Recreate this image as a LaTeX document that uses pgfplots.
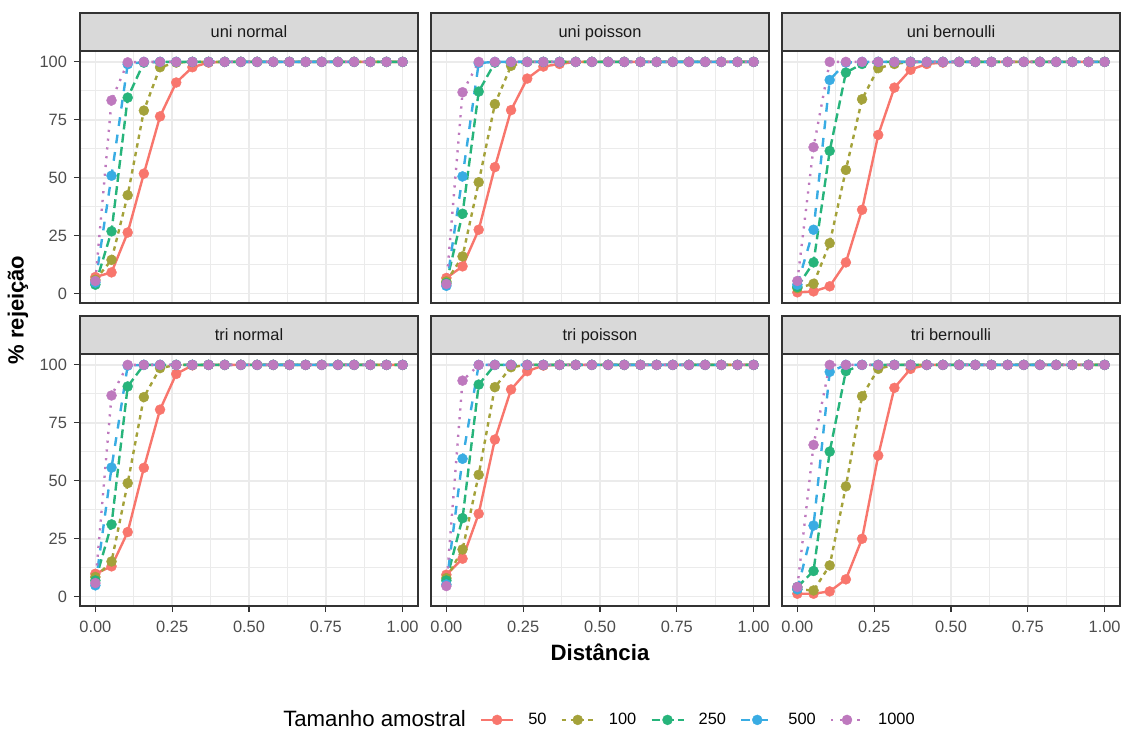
\documentclass[border=0pt]{standalone}
\usepackage{fontspec}
\setmainfont{Liberation Sans}
\usepackage{pgfplots}
\usepackage{pgfplotstable}
\pgfplotsset{compat=1.18}

\definecolor{c50}{HTML}{F8766D}
\definecolor{c100}{HTML}{A4A23A}
\definecolor{c250}{HTML}{27B47B}
\definecolor{c500}{HTML}{39ACE3}
\definecolor{c1000}{HTML}{BE79BE}
\definecolor{grey10}{HTML}{1A1A1A}
\definecolor{grey20}{HTML}{333333}
\definecolor{grey30}{HTML}{4D4D4D}
\definecolor{grey85}{HTML}{D9D9D9}
\definecolor{grey92}{HTML}{EBEBEB}

% x = i/19 ; columns: a=50, b=100, c=250, d=500, e=1000
\pgfplotstableread{
x a b c d e
0       7.2  6.0  3.9  4.8  5.5
0.05263 9.2  14.6 26.9 50.9 83.4
0.10526 26.4 42.5 84.6 99.0 99.8
0.15789 51.8 79.0 99.7 100 100
0.21053 76.5 97.7 100 100 100
0.26316 91.1 99.7 100 100 100
0.31579 97.7 100 100 100 100
0.36842 99.7 100 100 100 100
0.42105 100 100 100 100 100
0.47368 100 100 100 100 100
0.52632 100 100 100 100 100
0.57895 100 100 100 100 100
0.63158 100 100 100 100 100
0.68421 100 100 100 100 100
0.73684 100 100 100 100 100
0.78947 100 100 100 100 100
0.84211 100 100 100 100 100
0.89474 100 100 100 100 100
0.94737 100 100 100 100 100
1       100 100 100 100 100
}\UN

\pgfplotstableread{
x a b c d e
0       6.8  5.3  4.6  3.4  4.2
0.05263 11.8 16.1 34.5 50.6 86.9
0.10526 27.6 48.1 87.2 99.5 100
0.15789 54.6 81.8 99.7 100 100
0.21053 79.2 98.3 100 100 100
0.26316 92.8 100 100 100 100
0.31579 98.0 100 100 100 100
0.36842 99.1 100 100 100 100
0.42105 100 100 100 100 100
0.47368 100 100 100 100 100
0.52632 100 100 100 100 100
0.57895 100 100 100 100 100
0.63158 100 100 100 100 100
0.68421 100 100 100 100 100
0.73684 100 100 100 100 100
0.78947 100 100 100 100 100
0.84211 100 100 100 100 100
0.89474 100 100 100 100 100
0.94737 100 100 100 100 100
1       100 100 100 100 100
}\UP

\pgfplotstableread{
x a b c d e
0       0.6  2.4  2.9  3.9  5.5
0.05263 1.0  4.3  13.5 27.6 63.2
0.10526 3.2  21.8 61.6 92.2 100
0.15789 13.5 53.4 95.4 99.7 100
0.21053 36.2 83.9 99.1 100 100
0.26316 68.5 97.3 100 100 100
0.31579 88.9 99.1 100 100 100
0.36842 96.6 100 100 100 100
0.42105 99.1 100 100 100 100
0.47368 99.7 100 100 100 100
0.52632 100 100 100 100 100
0.57895 100 100 100 100 100
0.63158 100 100 100 100 100
0.68421 100 100 100 100 100
0.73684 100 100 100 100 100
0.78947 100 100 100 100 100
0.84211 100 100 100 100 100
0.89474 100 100 100 100 100
0.94737 100 100 100 100 100
1       100 100 100 100 100
}\UB

\pgfplotstableread{
x a b c d e
0       9.9  8.5  7.0  4.9  5.9
0.05263 13.1 15.2 31.2 55.7 86.8
0.10526 27.9 49.0 90.7 99.7 100
0.15789 55.6 86.1 100 100 100
0.21053 80.7 98.6 100 100 100
0.26316 96.1 100 100 100 100
0.31579 99.8 100 100 100 100
0.36842 100 100 100 100 100
0.42105 100 100 100 100 100
0.47368 100 100 100 100 100
0.52632 100 100 100 100 100
0.57895 100 100 100 100 100
0.63158 100 100 100 100 100
0.68421 100 100 100 100 100
0.73684 100 100 100 100 100
0.78947 100 100 100 100 100
0.84211 100 100 100 100 100
0.89474 100 100 100 100 100
0.94737 100 100 100 100 100
1       100 100 100 100 100
}\TN

\pgfplotstableread{
x a b c d e
0       9.5  8.0  7.0  5.3  4.6
0.05263 16.4 20.4 33.9 59.5 93.2
0.10526 35.8 52.6 91.5 100 100
0.15789 67.8 90.4 100 100 100
0.21053 89.4 99.0 100 100 100
0.26316 97.3 100 100 100 100
0.31579 99.7 100 100 100 100
0.36842 100 100 100 100 100
0.42105 100 100 100 100 100
0.47368 100 100 100 100 100
0.52632 100 100 100 100 100
0.57895 100 100 100 100 100
0.63158 100 100 100 100 100
0.68421 100 100 100 100 100
0.73684 100 100 100 100 100
0.78947 100 100 100 100 100
0.84211 100 100 100 100 100
0.89474 100 100 100 100 100
0.94737 100 100 100 100 100
1       100 100 100 100 100
}\TP

\pgfplotstableread{
x a b c d e
0       1.3  3.2  4.2  3.2  4.2
0.05263 1.3  2.7  11.1 30.7 65.5
0.10526 2.3  13.5 62.6 97.0 100
0.15789 7.5  47.6 97.3 100 100
0.21053 25.0 86.5 100 100 100
0.26316 60.9 98.3 100 100 100
0.31579 90.1 100 100 100 100
0.36842 98.3 100 100 100 100
0.42105 100 100 100 100 100
0.47368 100 100 100 100 100
0.52632 100 100 100 100 100
0.57895 100 100 100 100 100
0.63158 100 100 100 100 100
0.68421 100 100 100 100 100
0.73684 100 100 100 100 100
0.78947 100 100 100 100 100
0.84211 100 100 100 100 100
0.89474 100 100 100 100 100
0.94737 100 100 100 100 100
1       100 100 100 100 100
}\TB

\pgfplotsset{
  lw/.style={line width=1.2bp, forget plot, no markers},
  l50/.style={lw, c50, solid},
  l100/.style={lw, c100, dash pattern=on 2.2bp off 2.2bp},
  l250/.style={lw, c250, dash pattern=on 4.4bp off 2.2bp},
  l500/.style={lw, c500, dash pattern=on 4.4bp off 4.4bp},
  l1000/.style={lw, c1000, dash pattern=on 1.1bp off 3.3bp},
  mk/.style={only marks, forget plot, mark=*, mark size=2.5bp, mark options={line width=0.2bp}},
  m50/.style={mk, c50},
  m100/.style={mk, c100},
  m250/.style={mk, c250},
  m500/.style={mk, c500},
  m1000/.style={mk, c1000},
  panel/.style={
    scale only axis, width=169bp, height=126bp, anchor=south west,
    xmin=-0.05, xmax=1.05, ymin=-4.0, ymax=104.7,
    xtick={0,0.25,0.5,0.75,1}, ytick={0,25,50,75,100},
    minor xtick={0.125,0.375,0.625,0.875}, minor ytick={12.5,37.5,62.5,87.5},
    grid=both,
    major grid style={draw=grey92, line width=0.75bp},
    minor grid style={draw=grey92, line width=0.4bp},
    axis line style={draw=grey20, line width=1bp},
    tick align=outside, major tick length=3bp, minor tick length=0pt,
    tick style={draw=grey20, line width=0.6bp},
    xtick pos=left, ytick pos=left,
    tick label style={font=\fontsize{8.2bp}{9.8bp}\selectfont, text=grey30},
    xticklabel style={yshift=-1bp},
    xticklabels={0.00,0.25,0.50,0.75,1.00},
    yticklabels={0,25,50,75,100},
  },
  noxt/.style={xticklabels={}, xtick style={draw=none}},
  noyt/.style={yticklabels={}, ytick style={draw=none}},
}

\newcommand{\series}[1]{%
  \addplot[l50] table[x=x,y=a]{#1};
  \addplot[l100] table[x=x,y=b]{#1};
  \addplot[l250] table[x=x,y=c]{#1};
  \addplot[l500] table[x=x,y=d]{#1};
  \addplot[l1000] table[x=x,y=e]{#1};
  \addplot[m50] table[x=x,y=a]{#1};
  \addplot[m100] table[x=x,y=b]{#1};
  \addplot[m250] table[x=x,y=c]{#1};
  \addplot[m500] table[x=x,y=d]{#1};
  \addplot[m1000] table[x=x,y=e]{#1};
}

\newcommand{\strip}[2]{%
  \draw[fill=grey85, draw=grey20, line width=1bp] (#1.north west) rectangle ([yshift=19bp]#1.north east);
  \node[anchor=base, inner sep=0pt, text=grey10, font=\fontsize{8.2bp}{9.8bp}\selectfont] at ([yshift=6.6bp]#1.north) {#2};
}

\begin{document}
\begin{tikzpicture}
\path[use as bounding box] (0,0) rectangle (564bp,365.5bp);

\begin{axis}[panel, noxt, name=p1, at={(40bp,214bp)}]
\series{\UN}
\end{axis}
\begin{axis}[panel, noxt, noyt, name=p2, at={(215.5bp,214bp)}]
\series{\UP}
\end{axis}
\begin{axis}[panel, noxt, noyt, name=p3, at={(391bp,214bp)}]
\series{\UB}
\end{axis}
\begin{axis}[panel, name=p4, at={(40bp,62.5bp)}]
\series{\TN}
\end{axis}
\begin{axis}[panel, noyt, name=p5, at={(215.5bp,62.5bp)},
  legend columns=-1,
  legend style={at={(0.5,-0.452)}, anchor=center, draw=none, fill=none,
    inner sep=0pt, font=\fontsize{8.2bp}{9.8bp}\selectfont,
    nodes={inner sep=0pt},
    xshift=-4bp,
    /tikz/every even column/.append style={column sep=7bp},
    /tikz/every odd column/.append style={column sep=7bp}},
  legend cell align=left,
  legend image code/.code={\draw[mark repeat=2,mark phase=2] plot coordinates {(0bp,0bp) (8bp,0bp) (16bp,0bp)};}]
\series{\TP}
\addlegendimage{empty legend}
\addlegendentry{\fontsize{11.1bp}{13bp}\selectfont Tamanho amostral}
\addlegendimage{c50, line width=1.2bp, solid, mark=*, mark size=2.5bp, mark options={solid, line width=0.2bp}}
\addlegendentry{50}
\addlegendimage{c100, line width=1.2bp, dash pattern=on 2.2bp off 2.2bp, mark=*, mark size=2.5bp, mark options={solid, line width=0.2bp}}
\addlegendentry{100}
\addlegendimage{c250, line width=1.2bp, dash pattern=on 4.4bp off 2.2bp, mark=*, mark size=2.5bp, mark options={solid, line width=0.2bp}}
\addlegendentry{250}
\addlegendimage{c500, line width=1.2bp, dash pattern=on 4.4bp off 4.4bp, mark=*, mark size=2.5bp, mark options={solid, line width=0.2bp}}
\addlegendentry{500}
\addlegendimage{c1000, line width=1.2bp, dash pattern=on 1.1bp off 3.3bp, mark=*, mark size=2.5bp, mark options={solid, line width=0.2bp}}
\addlegendentry{1000}
\end{axis}
\begin{axis}[panel, noyt, name=p6, at={(391bp,62.5bp)}]
\series{\TB}
\end{axis}

\strip{p1}{uni normal}
\strip{p2}{uni poisson}
\strip{p3}{uni bernoulli}
\strip{p4}{tri normal}
\strip{p5}{tri poisson}
\strip{p6}{tri bernoulli}

\node[rotate=90, font=\bfseries\fontsize{11bp}{13bp}\selectfont] at (9bp,210.5bp) {\% rejeição};
\node[font=\bfseries\fontsize{11.1bp}{13bp}\selectfont] at (300bp,39.5bp) {Distância};
\end{tikzpicture}
\end{document}
